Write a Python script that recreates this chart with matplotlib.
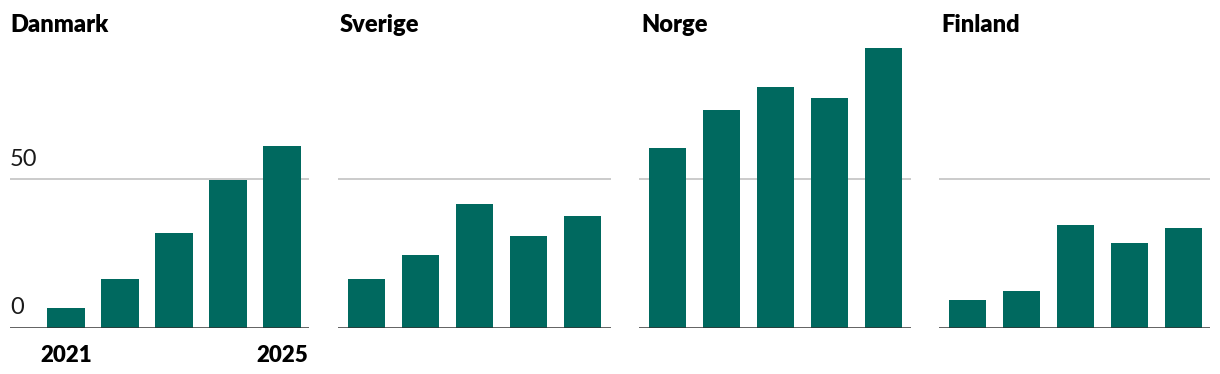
import matplotlib
matplotlib.use("Agg")
import matplotlib.pyplot as plt

countries = ["Danmark", "Sverige", "Norge", "Finland"]
years = [2021, 2022, 2023, 2024, 2025]
danmark = [6.6, 16.3, 31.8, 49.7, 61.1]
sverige = [16.3, 24.4, 41.6, 30.8, 37.5]
norge = [60.4, 73.2, 80.9, 77.2, 94.1]
finland = [9.3, 12.3, 34.5, 28.4, 33.5]
values = [danmark, sverige, norge, finland]
y_ticks = [0, 50]
year_labels = ["2021", "", "", "", "2025"]

plt.rcParams["font.family"] = ["Lato", "DejaVu Sans"]

W, H = 1220, 374
fig = plt.figure(figsize=(W / 100, H / 100), dpi=100)

bar_color = "#00695f"
grid_color = "#c2c2c2"
base_color = "#333333"

# panel extents in pixels (left, right)
spans = [(10, 309), (338, 611), (639, 911), (939, 1210)]
y0_px = 327.5
px_per_unit = 2.97
ymax = 95
step = 54.0  # pixels between bar centres

for i, (name, vals) in enumerate(zip(countries, values)):
    left, right = spans[i]
    ax = fig.add_axes([left / W, (H - y0_px) / H, (right - left) / W, ymax * px_per_unit / H])
    x = list(range(len(vals)))
    ax.bar(x, vals, width=0.70, color=bar_color, zorder=2)

    first_center = 66 if i == 0 else left + 28.5
    xmin = -(first_center - left) / step
    ax.set_xlim(xmin, xmin + (right - left) / step)
    ax.set_ylim(0, ymax)

    for s in ax.spines.values():
        s.set_visible(False)
    ax.set_yticks([])
    ax.set_xticks([])

    ax.axhline(50, color=grid_color, lw=1.2, zorder=1)
    ax.axhline(0, color=base_color, lw=1.8, zorder=3)

    fig.text(left / W if i == 0 else (left + 2) / W, 1 - 32 / H, name,
             fontsize=17, fontweight="heavy", va="baseline", ha="left", color="black")

    if i == 0:
        for t in y_ticks:
            ax.annotate(str(t), xy=(0, t), xycoords=("axes fraction", "data"),
                        xytext=(0, 9), textcoords="offset pixels",
                        fontsize=17, ha="left", va="bottom", color="#1a1a1a")
        for xi, lab in zip(x, year_labels):
            if lab:
                ax.annotate(lab, xy=(xi, 0), xycoords="data",
                            xytext=(0, -35), textcoords="offset pixels",
                            fontsize=16, fontweight="heavy", ha="center", va="baseline")

fig.savefig("out.png", dpi=100)
